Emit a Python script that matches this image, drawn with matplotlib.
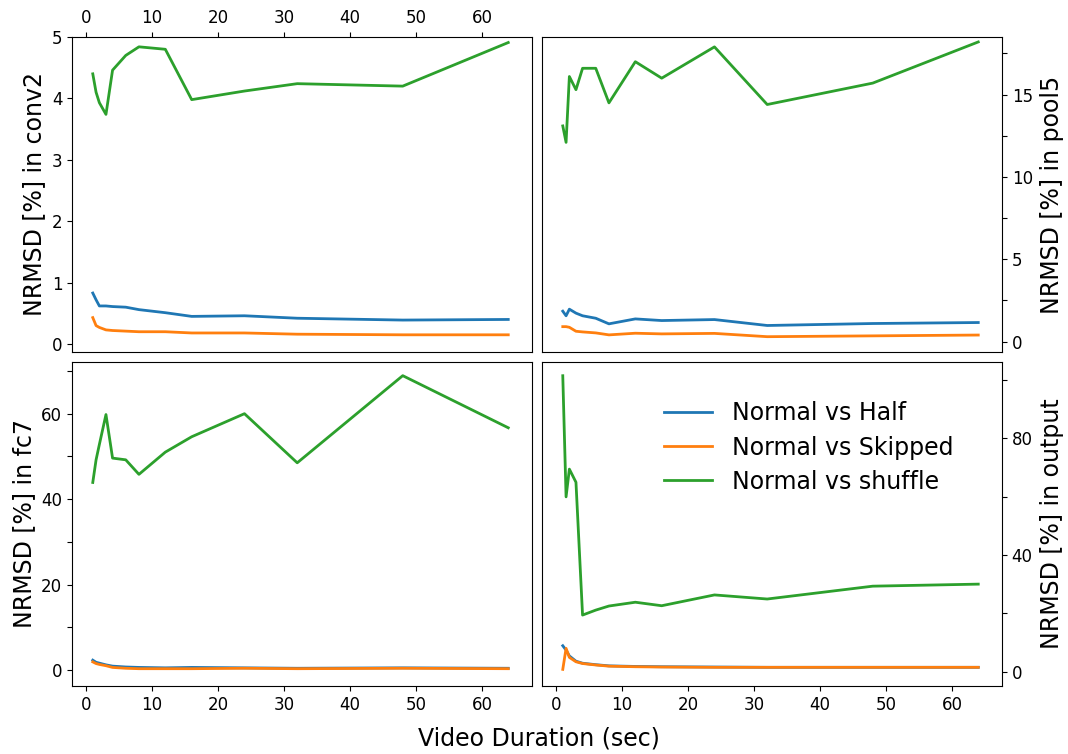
import matplotlib
matplotlib.use('Agg')
import matplotlib.pyplot as plt
from matplotlib.ticker import MultipleLocator

# video duration (sec)
duration = [1, 1.5, 2, 3, 4, 6, 8, 12, 16, 24, 32, 48, 64]

# conv2
conv2_half = [0.83, 0.72, 0.62, 0.62, 0.61, 0.60, 0.56, 0.51, 0.45, 0.46, 0.42, 0.39, 0.40]
conv2_skip = [0.43, 0.30, 0.27, 0.23, 0.22, 0.21, 0.20, 0.20, 0.18, 0.18, 0.16, 0.15, 0.15]
conv2_shuf = [4.40, 4.10, 3.93, 3.74, 4.46, 4.70, 4.84, 4.80, 3.98, 4.12, 4.24, 4.20, 4.91]

# pool5
pool5_half = [1.85, 1.57, 1.97, 1.73, 1.57, 1.42, 1.08, 1.38, 1.28, 1.34, 0.98, 1.10, 1.16]
pool5_skip = [0.91, 0.91, 0.87, 0.63, 0.59, 0.53, 0.41, 0.51, 0.47, 0.50, 0.30, 0.35, 0.40]
pool5_shuf = [13.1, 12.1, 16.1, 15.3, 16.6, 16.6, 14.5, 17.0, 16.0, 17.9, 14.4, 15.7, 18.2]

# fc7
fc7_half = [2.3, 1.8, 1.6, 1.2, 0.9, 0.7, 0.6, 0.5, 0.6, 0.5, 0.4, 0.5, 0.4]
fc7_skip = [1.9, 1.5, 1.3, 1.0, 0.6, 0.4, 0.3, 0.3, 0.3, 0.4, 0.3, 0.4, 0.3]
fc7_shuf = [43.9, 49.2, 52.8, 59.8, 49.6, 49.2, 45.8, 51.0, 54.6, 60.0, 48.5, 68.9, 56.7]

# output
out_half = [8.9, 7.4, 5.4, 3.6, 2.9, 2.4, 2.0, 1.8, 1.7, 1.6, 1.5, 1.5, 1.5]
out_skip = [0.8, 8.0, 4.9, 3.4, 2.8, 2.3, 1.9, 1.7, 1.6, 1.5, 1.5, 1.5, 1.5]
out_shuf = [101.4, 59.9, 69.4, 64.9, 19.4, 21.1, 22.5, 23.8, 22.6, 26.3, 24.9, 29.3, 30.0]

labels = ['Normal vs Half', 'Normal vs Skipped', 'Normal vs shuffle']
colors = ['#1f77b4', '#ff7f0e', '#2ca02c']

fig = plt.figure(figsize=(10.68, 7.54), dpi=100)
W, H = 1068.0, 754.0
def box(l, t, r, b):
    return [l / W, 1 - b / H, (r - l) / W, (b - t) / H]

ax1 = fig.add_axes(box(72, 37, 532, 352))
ax2 = fig.add_axes(box(542, 37, 1002, 352))
ax3 = fig.add_axes(box(72, 362, 532, 686))
ax4 = fig.add_axes(box(542, 362, 1002, 686))

panels = [
    (ax1, [conv2_half, conv2_skip, conv2_shuf], 'NRMSD [%] in conv2', (-0.13, 5.0), 1, None),
    (ax2, [pool5_half, pool5_skip, pool5_shuf], 'NRMSD [%] in pool5', (-0.63, 18.5), 5, 2.5),
    (ax3, [fc7_half, fc7_skip, fc7_shuf], 'NRMSD [%] in fc7', (-3.75, 72.1), 20, 10),
    (ax4, [out_half, out_skip, out_shuf], 'NRMSD [%] in output', (-4.9, 106.1), 40, 20),
]

for ax, series, ylab, ylim, major, minor in panels:
    for s, c, lab in zip(series, colors, labels):
        ax.plot(duration, s, color=c, linewidth=2, label=lab)
    ax.set_xlim(-2.15, 67.6)
    ax.set_ylim(*ylim)
    ax.xaxis.set_major_locator(MultipleLocator(10))
    ax.yaxis.set_major_locator(MultipleLocator(major))
    if minor:
        ax.yaxis.set_minor_locator(MultipleLocator(minor))
        ax.tick_params(axis='y', which='minor', length=3.5, width=0.8)
    ax.tick_params(labelsize=12)
    ax.set_ylabel(ylab, fontsize=17)

# top row
ax1.xaxis.tick_top()
ax2.tick_params(axis='x', bottom=False, labelbottom=False)
# right column
for ax in (ax2, ax4):
    ax.yaxis.tick_right()
    ax.yaxis.set_label_position('right')
    ax.yaxis.labelpad = 5

ax4.legend(loc='upper right', bbox_to_anchor=(0.94, 0.944), frameon=False,
           fontsize=17, handlelength=2.0, handletextpad=0.85, labelspacing=0.43)

fig.text(0.505, 0.02, 'Video Duration (sec)', ha='center', va='center', fontsize=17)

fig.savefig('out.png', dpi=100)
